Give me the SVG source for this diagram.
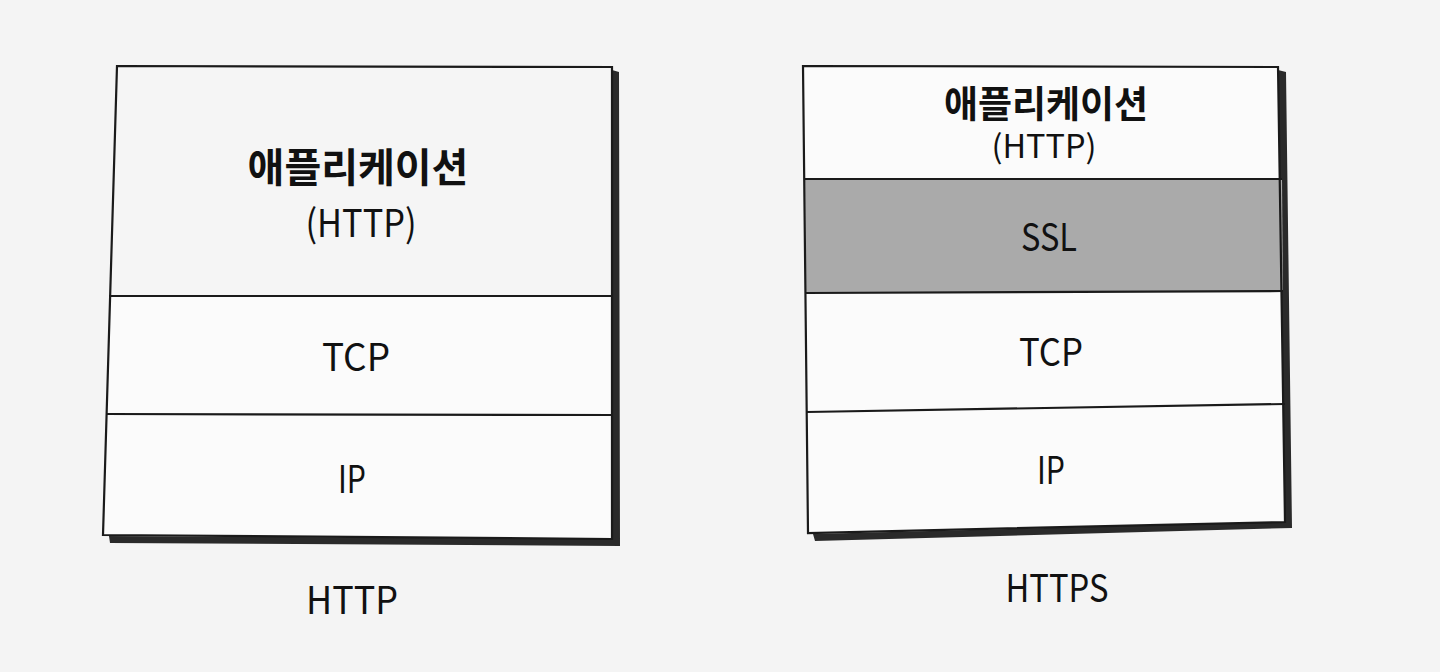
<svg xmlns="http://www.w3.org/2000/svg" width="1440" height="672" viewBox="0 0 1440 672">
<style>
.bg{fill:#f4f4f4}
.cell{fill:none;stroke:#1a1a1a;stroke-width:2.2}
.paper{fill:#fbfbfb}
.app{fill:#f5f5f5}
.ssl{fill:#aaaaaa}
.div{stroke:#1a1a1a;stroke-width:2.2;fill:none}
.shadow{fill:#2a2a2a}
.t{font-family:"Noto Sans CJK KR","Noto Sans",sans-serif;fill:#111;text-anchor:middle}
.kb{font-weight:700}
.lat{font-weight:400;font-size:38px}
</style>
<rect class="bg" x="0" y="0" width="1440" height="672"/>
<g id="stack-http">
  <polygon class="shadow" points="612,70 619,72 620,546 110,543 109,536 612,539"/>
  <polygon class="paper" points="117,66 612,67 612,539 103,535"/>
  <polygon class="app" points="117,66 612,67 612,296 109,296"/>
  <polygon class="cell" points="117,66 612,67 612,539 103,535"/>
  <line class="div" x1="109" y1="296" x2="612" y2="296"/>
  <line class="div" x1="106" y1="414" x2="612" y2="415"/>
  <text class="t kb" x="358" y="182" font-size="40">애플리케이션</text>
  <text class="t lat" x="361" y="237" textLength="111" lengthAdjust="spacingAndGlyphs">(HTTP)</text>
  <text class="t lat" x="356" y="371" textLength="68" lengthAdjust="spacingAndGlyphs">TCP</text>
  <text class="t lat" x="352" y="493" textLength="28" lengthAdjust="spacingAndGlyphs">IP</text>
</g>
<g id="label-http"><text class="t lat" x="352" y="614" textLength="92" lengthAdjust="spacingAndGlyphs">HTTP</text></g>
<g id="stack-https">
  <polygon class="shadow" points="1278,70 1286,72 1292,528 815,541 813,534 1285,522"/>
  <polygon class="paper" points="803,66 1278,67 1285,522 808,533"/>
  <polygon class="ssl" points="805,179 1282,179 1283,291 806,293"/>
  <polygon class="cell" points="803,66 1278,67 1285,522 808,533"/>
  <line class="div" x1="805" y1="179" x2="1282" y2="179"/>
  <line class="div" x1="806" y1="293" x2="1283" y2="291"/>
  <line class="div" x1="807" y1="412" x2="1285" y2="404"/>
  <text class="t kb" x="1046" y="118" font-size="37">애플리케이션</text>
  <text class="t lat" x="1044" y="158" style="font-size:32px" textLength="105" lengthAdjust="spacingAndGlyphs">(HTTP)</text>
  <text class="t lat" x="1049" y="251" textLength="56" lengthAdjust="spacingAndGlyphs">SSL</text>
  <text class="t lat" x="1051" y="366" textLength="64" lengthAdjust="spacingAndGlyphs">TCP</text>
  <text class="t lat" x="1051" y="484" textLength="28" lengthAdjust="spacingAndGlyphs">IP</text>
</g>
<g id="label-https"><text class="t lat" x="1057" y="602" textLength="103" lengthAdjust="spacingAndGlyphs">HTTPS</text></g>
</svg>
